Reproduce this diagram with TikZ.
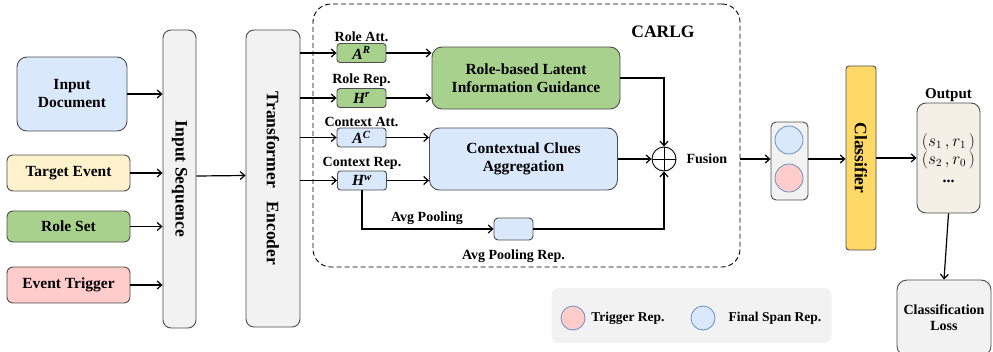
\documentclass[tikz,border=0pt]{standalone}
\usepackage{fontspec}
\setmainfont{Liberation Serif}
\usetikzlibrary{positioning,arrows.meta,calc}

\definecolor{lblue}{HTML}{DAE8FC}
\definecolor{lgreen}{HTML}{A9D18E}
\definecolor{lyellow}{HTML}{FFF2CC}
\definecolor{lpink}{HTML}{FFCCCC}
\definecolor{lgray}{HTML}{F2F2F2}
\definecolor{gold}{HTML}{FFD966}
\definecolor{beige}{HTML}{F5F0E6}
\definecolor{cblue}{HTML}{6C8EBF}

\newcommand{\fmain}{\rmfamily\bfseries\fontsize{15.5}{18}\selectfont}
\newcommand{\fvert}{\rmfamily\bfseries\fontsize{17.5}{20}\selectfont}
\newcommand{\fsmall}{\rmfamily\bfseries\fontsize{14}{16}\selectfont}

\begin{document}
\begin{tikzpicture}[
    x=1pt, y=-1pt,
    box/.style={draw=black!70, line width=0.9pt, rounded corners=6pt, align=center, font=\fmain},
    inbox/.style={box, minimum width=123pt, minimum height=36pt},
    colbox/.style={box, fill=lgray, rounded corners=8pt},
    sbox/.style={box, rounded corners=3pt, minimum width=49pt, minimum height=19pt, inner sep=0pt},
    bigbox/.style={box, rounded corners=10pt, minimum width=188pt, minimum height=62pt},
    vlbl/.style={rotate=-90, font=\fvert},
    slbl/.style={font=\fsmall, inner sep=1pt},
    dot/.style={circle, draw=cblue, line width=0.8pt, minimum size=28pt, inner sep=0pt},
    arr/.style={->, line width=1.2pt},
    >={Straight Barb[length=4.5pt,width=8pt]}
]
\useasboundingbox (0,0) rectangle (993,351);

% Column 1: inputs
\node[box, fill=lblue, rounded corners=10pt, minimum width=110pt, minimum height=74pt] (doc) at (72,94) {Input\\Document};
\node[inbox, fill=lyellow] (tgt) at (68.5,173) {Target Event};
\node[inbox, fill=lgreen, minimum height=31pt] (roleset) at (68.5,226.5) {Role Set};
\node[inbox, fill=lpink] (trig) at (68.5,285) {Event Trigger};

% Column 2: input sequence + encoder
\node[colbox, minimum width=33pt, minimum height=298pt, label={[vlbl]center:Input Sequence}] (seq) at (179.5,179) {};
\node[colbox, minimum width=54pt, minimum height=297pt, label={[vlbl]center:Transformer\hspace{14pt}Encoder}] (enc) at (273,178.5) {};

\draw[arr] (doc.east) -- (doc.east -| seq.west);
\draw[arr] (tgt.east) -- (tgt.east -| seq.west);
\draw[arr] (roleset.east) -- (roleset.east -| seq.west);
\draw[arr] (trig.east) -- (trig.east -| seq.west);
\draw[arr] ($(seq.east)+(0,-3)$) -- ($(enc.west)+(0,-3)$);

% Column 3: CARLG module
\node[draw, line width=0.9pt, dash pattern=on 5pt off 3pt, rounded corners=18pt, minimum width=427pt, minimum height=263pt] (carlg) at (526.5,135.5) {};
\node[font=\fvert] (carlgl) at (663,32) {CARLG};

\node[sbox, fill=lgreen, label={[slbl]above:Role Att.}] (ar) at (361.5,53) {\itshape A\textsuperscript{R}};
\node[sbox, fill=lgreen, label={[slbl]above:Role Rep.}] (hr) at (361.5,98) {\itshape H\textsuperscript{r}};
\node[sbox, fill=lblue, label={[slbl]above:Context Att.}] (ac) at (361.5,137.5) {\itshape A\textsuperscript{C}};
\node[sbox, fill=lblue, label={[slbl]above:Context Rep.}] (hw) at (362,180.5) {\itshape H\textsuperscript{w}};

\foreach \n in {ar,hr,ac,hw}
    \draw[arr] (enc.east |- \n.west) -- (\n.west);

\node[bigbox, fill=lgreen] (rlig) at (526,78) {Role-based Latent\\Information Guidance};
\node[bigbox, fill=lblue] (cca) at (523.5,159) {Contextual Clues\\Aggregation};

\draw[arr] (ar.east) -- (ar.east -| rlig.west);
\draw[arr] (hr.east) -- (hr.east -| rlig.west);
\draw[arr] (ac.east) -- (ac.east -| cca.west);
\draw[arr] (hw.east) -- (hw.east -| cca.west);

% Fusion
\node[circle, draw, line width=0.9pt, minimum size=24pt, inner sep=0pt,
      path picture={\draw[line width=0.9pt] (path picture bounding box.north) -- (path picture bounding box.south)
                    (path picture bounding box.west) -- (path picture bounding box.east);}] (fus) at (664,159) {};
\node[slbl, right=9pt of fus] (fusl) {Fusion};

\node[sbox, fill=lblue, minimum width=39pt, minimum height=22pt, rounded corners=4pt] (avg) at (513.5,229) {};
\node[slbl] (avgl) at (427,218) {Avg Pooling};
\node[slbl, below=8pt of avg] (avgrl) {Avg Pooling Rep.};

\draw[arr] (rlig.east) -| (fus.north);
\draw[arr] (cca.east) -- (fus.west);
\draw[arr] (hw.south) |- (avg.west);
\draw[arr] (avg.east) -| (fus.south);

% Column 4: span rep, classifier, output
\node[colbox, rounded corners=5pt, minimum width=37pt, minimum height=78pt] (stack) at (789.5,161) {};
\node[dot, fill=lblue] (spanc) at (789,140) {};
\node[dot, fill=lpink] (trigc) at (789,178) {};

\node[box, fill=gold, rounded corners=3pt, minimum width=30pt, minimum height=184pt, label={[vlbl]center:Classifier}] (cls) at (861,158) {};

\node[box, fill=beige, rounded corners=9pt, minimum width=63pt, minimum height=110pt, font=\fontsize{16}{18}\selectfont,
      label={[slbl, font=\rmfamily\bfseries\fontsize{15}{17}\selectfont]above:Output}] (out) at (948.5,158)
      {$(s_1\,,r_1\,)$\\$(s_2\,,r_0\,)$\\\textbf{...}};

\node[colbox, rounded corners=10pt, minimum width=94pt, minimum height=76pt, font=\fsmall] (loss) at (944,318) {Classification\\Loss};

\draw[arr] (carlg.east |- fus.east) -- (stack.west |- fus.east);
\draw[arr] (stack.east |- fus.east) -- (cls.west |- fus.east);
\draw[arr] (cls.east |- out.west) -- (out.west);
\draw[arr] (out.south) -- (loss.north);

% Legend
\node[fill=lgray, rounded corners=7pt, minimum width=280pt, minimum height=55pt] (leg) at (691.5,315.5) {};
\node[dot, fill=lpink, minimum size=24pt] (legt) at (573,318) {};
\node[slbl, font=\rmfamily\bfseries\fontsize{13.5}{16}\selectfont] (legtl) at (628,318) {Trigger Rep.};
\node[dot, fill=lblue, minimum size=24pt] (legf) at (703,318) {};
\node[slbl, font=\rmfamily\bfseries\fontsize{13.5}{16}\selectfont] (legfl) at (775,318) {Final Span Rep.};

\end{tikzpicture}
\end{document}
